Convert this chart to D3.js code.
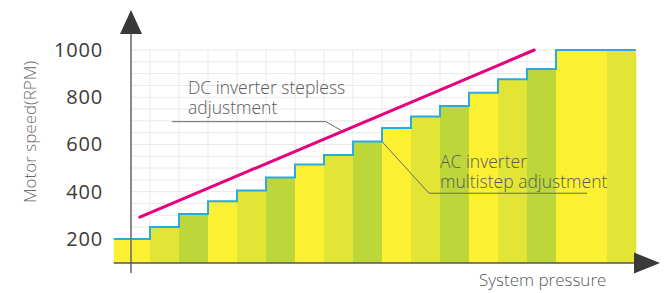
<!DOCTYPE html>
<html>
<head>
<meta charset="utf-8">
<script src="https://cdn.jsdelivr.net/npm/d3@7"></script>
<style>
  html, body { margin: 0; padding: 0; background: #fff; }
  svg { display: block; font-family: 'Open Sans', sans-serif; }
</style>
</head>
<body>
<div id="chart"></div>
<script>
// step edges along the pressure axis (one unit = one grid column)
const stepEdges = [-1.25, 0, 1, 2, 3, 4, 5, 6, 7, 8, 9, 10, 11, 12, 13, 14, 15.75, 16.75];
// motor speed of each AC step (RPM)
const stepSpeeds = [200, 250, 305, 360, 405, 460, 515, 555, 612, 670, 718, 763, 819, 876, 920, 1000, 1000];
// DC inverter stepless line (start, end)
const dcPressure = [-0.35, 13.25];
const dcSpeed = [292, 1000];
const yTicks = [200, 400, 600, 800, 1000];
const stepColors = ['#fcf033', '#e2e535', '#bdd73a'];

const width = 669;
const height = 293;

const xScale = d3.scaleLinear([0, 1], [150, 179]);
const yScale = d3.scaleLinear([98, 1000], [263, 50]);

const axisX = xScale(-0.655);
const baseY = yScale(98);

const svg = d3.select('#chart')
  .append('svg')
  .attr('width', width)
  .attr('height', height)
  .attr('viewBox', [0, 0, width, height]);

// grid
const grid = svg.append('g').attr('stroke', '#e9e9e9').attr('stroke-width', 1);
grid.selectAll('.h')
  .data(d3.range(100, 1001, 50))
  .join('line')
  .attr('class', 'h')
  .attr('x1', axisX)
  .attr('x2', xScale(16.75))
  .attr('y1', (d) => yScale(d))
  .attr('y2', (d) => yScale(d));
grid.selectAll('.v')
  .data(d3.range(0, 17))
  .join('line')
  .attr('class', 'v')
  .attr('x1', (d) => xScale(d))
  .attr('x2', (d) => xScale(d))
  .attr('y1', yScale(1000))
  .attr('y2', baseY);

// AC multistep bars
const bars = stepSpeeds.map((s, i) => ({ x0: stepEdges[i], x1: stepEdges[i + 1], speed: s, i }));
svg.append('g')
  .selectAll('rect')
  .data(bars)
  .join('rect')
  .attr('x', (d) => xScale(d.x0))
  .attr('width', (d) => xScale(d.x1) - xScale(d.x0) + 0.5)
  .attr('y', (d) => yScale(d.speed))
  .attr('height', (d) => baseY - yScale(d.speed))
  .attr('fill', (d) => stepColors[d.i % 3]);

// blue step outline
const stepPoints = stepSpeeds.map((s, i) => [stepEdges[i], s]);
stepPoints.push([stepEdges[stepEdges.length - 1], stepSpeeds[stepSpeeds.length - 1]]);
svg.append('path')
  .attr('d', d3.line()
    .x((d) => xScale(d[0]))
    .y((d) => yScale(d[1]))
    .curve(d3.curveStepAfter)(stepPoints))
  .attr('fill', 'none')
  .attr('stroke', '#29abe2')
  .attr('stroke-width', 2);

// DC stepless line
svg.append('line')
  .attr('x1', xScale(dcPressure[0]))
  .attr('y1', yScale(dcSpeed[0]))
  .attr('x2', xScale(dcPressure[1]))
  .attr('y2', yScale(dcSpeed[1]))
  .attr('stroke', '#e6007e')
  .attr('stroke-width', 3)
  .attr('stroke-linecap', 'round');

// axes
svg.append('line')
  .attr('x1', axisX).attr('x2', axisX)
  .attr('y1', 273).attr('y2', 30)
  .attr('stroke', '#6f6f6f')
  .attr('stroke-width', 1.6);
svg.append('polygon')
  .attr('points', [[axisX, 10], [axisX - 11, 34], [axisX + 11, 34]].join(' '))
  .attr('fill', '#3a3838');

svg.append('line')
  .attr('x1', xScale(-1.25)).attr('x2', 636)
  .attr('y1', baseY).attr('y2', baseY)
  .attr('stroke', '#555')
  .attr('stroke-width', 1.6);
svg.append('polygon')
  .attr('points', [[634, baseY - 10.5], [660, baseY], [634, baseY + 10.5]].join(' '))
  .attr('fill', '#3a3838');

const gy = svg.append('g')
  .attr('transform', `translate(${axisX},0)`)
  .call(d3.axisLeft(yScale)
    .tickValues(yTicks)
    .tickFormat(d3.format('d'))
    .tickSize(0)
    .tickPadding(28));
gy.select('.domain').remove();
gy.selectAll('text')
  .attr('fill', '#3a3a3a')
  .style('font-family', "'Open Sans', sans-serif")
  .style('font-size', '20px')
  .style('letter-spacing', '0.8px');

// axis titles
svg.append('text')
  .attr('transform', `translate(36,${132}) rotate(-90)`)
  .attr('text-anchor', 'middle')
  .attr('fill', '#6a6a6a')
  .style('font-size', '17px')
  .style('font-weight', 300)
  .text('Motor speed(RPM)');

svg.append('text')
  .attr('x', 479)
  .attr('y', 286)
  .attr('fill', '#5a5a5a')
  .style('font-size', '17px')
  .style('font-weight', 300)
  .text('System pressure');

// annotations
const leader = (pts) => svg.append('path')
  .attr('d', d3.line().x((d) => xScale(d[0])).y((d) => yScale(d[1]))(pts))
  .attr('fill', 'none')
  .attr('stroke', '#6a6a6a')
  .attr('stroke-width', 1);

leader([[0.76, 696.5], [6.07, 696.5], [6.61, 658]]);
leader([[8, 612], [9.62, 393.5], [15.07, 393.5]]);

const note = (x, y, lines) => {
  lines.forEach((l, i) => {
    svg.append('text')
      .attr('x', x)
      .attr('y', y + i * 19.5)
      .attr('fill', '#5a5a5a')
      .style('font-size', '17.5px')
      .style('font-weight', 300)
      .text(l);
  });
};
note(188, 94, ['DC inverter stepless', 'adjustment']);
note(440, 168, ['AC inverter', 'multistep adjustment']);
</script>
</body>
</html>
